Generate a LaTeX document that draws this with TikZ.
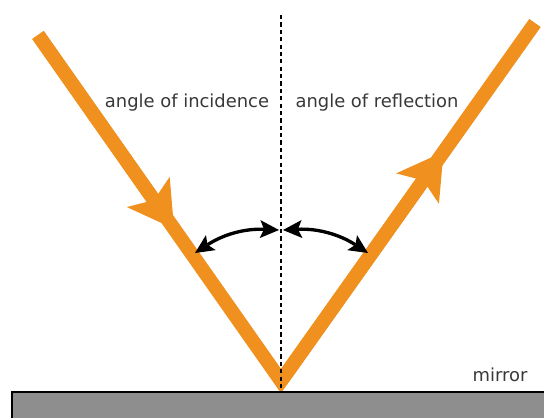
\documentclass[tikz,border=0pt]{standalone}
\usepackage{fontspec}
\setmainfont{DejaVu Sans}
\usetikzlibrary{arrows.meta,calc}
\definecolor{rayorange}{HTML}{F0901E}
\definecolor{mirrorgray}{HTML}{8E8E8E}
\tikzset{
  ray/.style={draw=rayorange,line width=0.28cm,line join=miter,line cap=butt},
  raytip/.style={draw=rayorange,fill=rayorange,line width=0.28cm,
    -{Stealth[length=0.9cm,width=1.05cm,inset=0.2cm,line width=0pt]}},
  angarrow/.style={draw=black,line width=1.9pt,
    {Stealth[length=0.38cm,width=0.36cm,inset=0.08cm,line width=0pt]}-{Stealth[length=0.38cm,width=0.36cm,inset=0.08cm,line width=0pt]}},
  normal/.style={draw=black,line width=1.3pt,dash pattern=on 2.4pt off 1.8pt},
  lbl/.style={font=\fontsize{10.2pt}{12pt}\selectfont,text=black!78,inner sep=0pt,anchor=base}
}
\begin{document}
\begin{tikzpicture}[x=0.02cm,y=-0.02cm]
\useasboundingbox (0,0) rectangle (544,417);
\coordinate (S) at (38,35);
\coordinate (O) at (281,381);
\coordinate (E) at (535,23);
\coordinate (T) at (281,15);
\coordinate (B) at (281,392);
% rays
\draw[ray] (S) -- (O) -- (E);
\path[raytip] (S) -- ($(S)!0.56!(O)$);
\path[raytip] (O) -- ($(O)!0.64!(E)$);
% angle arrows
\coordinate (A1) at (195,253);
\coordinate (A2) at (279,230);
\coordinate (A3) at (283,230);
\coordinate (A4) at (368,253);
\draw[angarrow] (A1) to[bend left=18] (A2);
\draw[angarrow] (A3) to[bend left=18] (A4);
% mirror
\draw[fill=mirrorgray,draw=black,line width=1.2pt] (12,392) rectangle (560,430);
% normal
\draw[normal] (T) -- (B);
% labels
\node[lbl] (inc) at (187,107) {angle of incidence};
\node[lbl] (refl) at (377,107) {angle of reflection};
\node[lbl] (mir) at (500,381) {mirror};
\end{tikzpicture}
\end{document}
